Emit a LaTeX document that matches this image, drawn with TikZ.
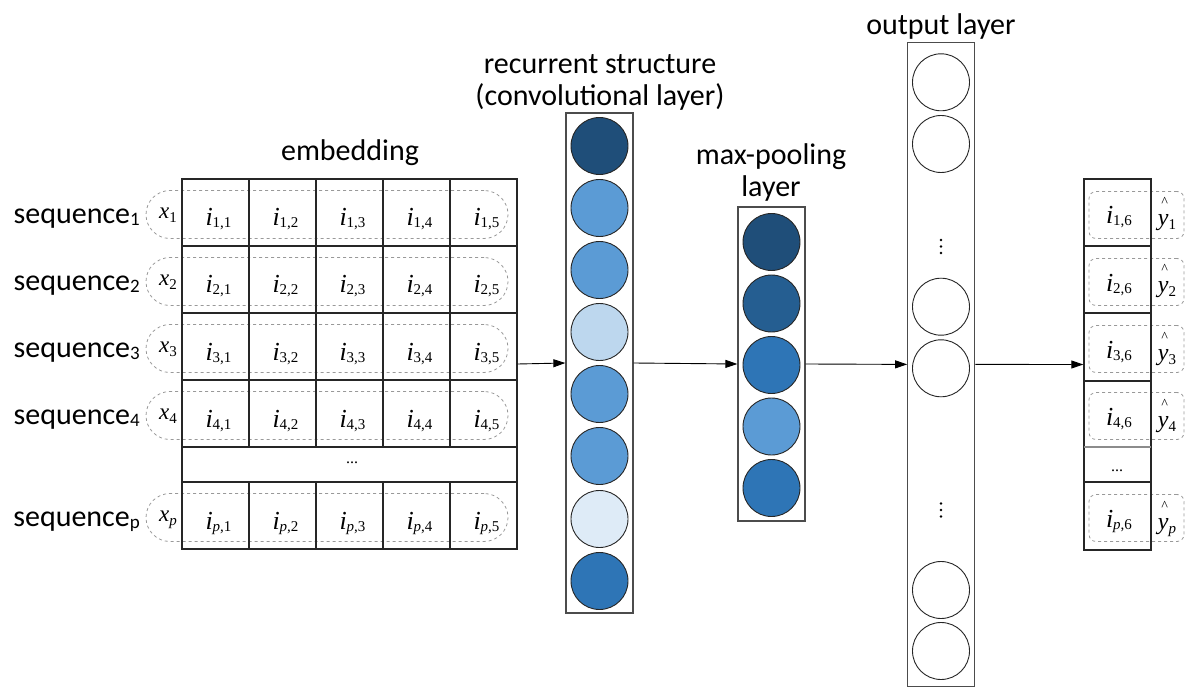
\documentclass[tikz,border=0pt]{standalone}
\usepackage{fontspec}
\setmainfont{Carlito}
\newfontfamily\tnr{Liberation Serif}
\usepackage{tikz}
\usetikzlibrary{positioning}
\usetikzlibrary{arrows.meta}
\usepackage{xcolor}

\definecolor{navy}{HTML}{1F4E79}
\definecolor{deepblue}{HTML}{255E91}
\definecolor{steelblue}{HTML}{2E75B6}
\definecolor{midblue}{HTML}{5B9BD5}
\definecolor{paleblue}{HTML}{BDD7EE}
\definecolor{iceblue}{HTML}{DEEBF7}

\newcommand{\seqlab}[1]{sequence\raisebox{-2pt}{\fontsize{19}{19}\selectfont #1}}
\newcommand{\ient}[2]{{\tnr\fontsize{26}{26}\selectfont\itshape i}\raisebox{-2pt}{\tnr\fontsize{15}{15}\selectfont #1,#2}}
\newcommand{\xent}[1]{{\tnr\fontsize{23}{23}\selectfont\itshape x}\raisebox{-4pt}{\tnr\fontsize{15}{15}\selectfont #1}}
\newcommand{\yent}[1]{{\tnr\fontsize{24}{24}\selectfont\itshape y\llap{\raisebox{19pt}{\fontsize{14}{14}\selectfont\^{}}\hspace{1.5pt}}}\raisebox{-4pt}{\tnr\fontsize{15}{15}\selectfont #1}}

\begin{document}
\begin{tikzpicture}[x=1pt, y=-1pt,
  lab/.style={font=\fontsize{30}{32}\selectfont, inner sep=0pt},
  sym/.style={anchor=base, inner sep=0pt},
  layerbox/.style={draw=black!70, line width=1.3pt, minimum width=67pt, inner sep=0pt},
  unit/.style={circle, draw=black!85, line width=0.9pt, minimum size=57pt, inner sep=0pt},
  pill/.style={draw=black!40, dashed, line width=0.8pt, rounded corners=24pt, minimum width=362pt, minimum height=48pt, inner sep=0pt},
  tag/.style={draw=black!40, dashed, line width=0.8pt, rounded corners=7pt, minimum width=95pt, minimum height=47pt, inner sep=0pt},
  grid line/.style={black!85, line width=1.4pt},
  arr/.style={-{Triangle[length=12pt, width=8pt]}, line width=0.9pt}]

\useasboundingbox (0,0) rectangle (1187,687);

% dashed rows behind the embedding
\node[pill] (r1) at (327,214.5) {};
\node[pill] (r2) at (327,281.5) {};
\node[pill] (r3) at (327,348.5) {};
\node[pill] (r4) at (327,415.5) {};
\node[pill] (rp) at (327,517.5) {};

% embedding table
\node[draw=black!85, line width=1.4pt, minimum width=335pt, minimum height=370pt, inner sep=0pt] (emb) at (349.5,364) {};
\draw[grid line] (182,246)--(517,246);
\draw[grid line] (182,313)--(517,313);
\draw[grid line] (182,380)--(517,380);
\draw[grid line] (182,447)--(517,447);
\draw[grid line] (182,482)--(517,482);
\draw[grid line] (249,179)--(249,447);
\draw[grid line] (316,179)--(316,447);
\draw[grid line] (383,179)--(383,447);
\draw[grid line] (450,179)--(450,447);
\draw[grid line] (249,482)--(249,549);
\draw[grid line] (316,482)--(316,549);
\draw[grid line] (383,482)--(383,549);
\draw[grid line] (450,482)--(450,549);

\node[lab] (embl) at (350,153) {embedding};

\node[lab, anchor=base east] (s1) at (140,223.5) {\seqlab{1}};
\node[lab, anchor=base east] (s2) at (140,290.5) {\seqlab{2}};
\node[lab, anchor=base east] (s3) at (140,357.5) {\seqlab{3}};
\node[lab, anchor=base east] (s4) at (140,424.5) {\seqlab{4}};
\node[lab, anchor=base east] (sp) at (140,526.5) {\seqlab{p}};

\node[sym] (x1) at (168,218.5) {\xent{1}};
\node[sym] (x2) at (168,285.5) {\xent{2}};
\node[sym] (x3) at (168,352.5) {\xent{3}};
\node[sym] (x4) at (168,419.5) {\xent{4}};
\node[sym] (xp) at (168,521.5) {\xent{{\itshape p}}};

\node[sym] (e11) at (218.5,226) {\ient{1}{1}};
\node[sym] (e12) at (285.5,226) {\ient{1}{2}};
\node[sym] (e13) at (352.5,226) {\ient{1}{3}};
\node[sym] (e14) at (419.5,226) {\ient{1}{4}};
\node[sym] (e15) at (486.5,226) {\ient{1}{5}};

\node[sym] (e21) at (218.5,293) {\ient{2}{1}};
\node[sym] (e22) at (285.5,293) {\ient{2}{2}};
\node[sym] (e23) at (352.5,293) {\ient{2}{3}};
\node[sym] (e24) at (419.5,293) {\ient{2}{4}};
\node[sym] (e25) at (486.5,293) {\ient{2}{5}};

\node[sym] (e31) at (218.5,360) {\ient{3}{1}};
\node[sym] (e32) at (285.5,360) {\ient{3}{2}};
\node[sym] (e33) at (352.5,360) {\ient{3}{3}};
\node[sym] (e34) at (419.5,360) {\ient{3}{4}};
\node[sym] (e35) at (486.5,360) {\ient{3}{5}};

\node[sym] (e41) at (218.5,427) {\ient{4}{1}};
\node[sym] (e42) at (285.5,427) {\ient{4}{2}};
\node[sym] (e43) at (352.5,427) {\ient{4}{3}};
\node[sym] (e44) at (419.5,427) {\ient{4}{4}};
\node[sym] (e45) at (486.5,427) {\ient{4}{5}};

\node[sym] (ep1) at (218.5,529) {\ient{{\itshape p}}{1}};
\node[sym] (ep2) at (285.5,529) {\ient{{\itshape p}}{2}};
\node[sym] (ep3) at (352.5,529) {\ient{{\itshape p}}{3}};
\node[sym] (ep4) at (419.5,529) {\ient{{\itshape p}}{4}};
\node[sym] (ep5) at (486.5,529) {\ient{{\itshape p}}{5}};

\node[sym, font=\tnr\fontsize{16}{16}\selectfont] (edots) at (352,463) {...};

% recurrent structure
\node[layerbox, minimum height=500pt] (conv) at (599.5,363) {};
\node[lab, align=center] (convl) at (600,82) {recurrent structure\\(convolutional layer)};
\node[unit, fill=navy] (c1) at (599.5,146) {};
\node[unit, fill=midblue] (c2) at (599.5,208) {};
\node[unit, fill=midblue] (c3) at (599.5,270) {};
\node[unit, fill=paleblue] (c4) at (599.5,332) {};
\node[unit, fill=midblue] (c5) at (599.5,394) {};
\node[unit, fill=midblue] (c6) at (599.5,456) {};
\node[unit, fill=iceblue] (c7) at (599.5,519) {};
\node[unit, fill=steelblue] (c8) at (599.5,581) {};

% max-pooling
\node[layerbox, minimum height=314pt] (pool) at (771.5,364) {};
\node[lab, align=center] (pooll) at (771,173) {max-pooling\\layer};
\node[unit, fill=navy] (m1) at (771.5,242) {};
\node[unit, fill=deepblue] (m2) at (771.5,303.5) {};
\node[unit, fill=steelblue] (m3) at (771.5,365) {};
\node[unit, fill=midblue] (m4) at (771.5,426.5) {};
\node[unit, fill=steelblue] (m5) at (771.5,488) {};

% output layer
\node[layerbox, minimum height=644pt] (out) at (941.3,364.4) {};
\node[lab] (outl) at (941,27) {output layer};
\node[unit, fill=white] (o1) at (941,82.3) {};
\node[unit, fill=white] (o2) at (941,144) {};
\node[unit, fill=white] (o3) at (941,306.7) {};
\node[unit, fill=white] (o4) at (941,368.3) {};
\node[unit, fill=white] (o5) at (941,590) {};
\node[unit, fill=white] (o6) at (941,651) {};
% vertical dots
\fill (941,240) circle (1.3) (941,246.5) circle (1.3) (941,253) circle (1.3);
\fill (941,503.5) circle (1.3) (941,510) circle (1.3) (941,516.5) circle (1.3);

% result column
\node[tag] (t1) at (1136.5,215) {};
\node[tag] (t2) at (1136.5,282) {};
\node[tag] (t3) at (1136.5,349) {};
\node[tag] (t4) at (1136.5,416) {};
\node[tag] (tp) at (1136.5,518) {};

\node[draw=black!85, line width=1.4pt, minimum width=67pt, minimum height=371pt, inner sep=0pt] (res) at (1117.5,364.5) {};
\draw[grid line] (1084,246)--(1151,246);
\draw[grid line] (1084,313)--(1151,313);
\draw[grid line] (1084,381)--(1151,381);
\draw[grid line, black!45] (1084,447)--(1151,447);
\draw[grid line] (1084,482)--(1151,482);

\node[sym] (f1) at (1119,224) {\ient{1}{6}};
\node[sym] (f2) at (1119,291) {\ient{2}{6}};
\node[sym] (f3) at (1119,358) {\ient{3}{6}};
\node[sym] (f4) at (1119,425) {\ient{4}{6}};
\node[sym] (fp) at (1119,527) {\ient{{\itshape p}}{6}};
\node[sym, font=\tnr\fontsize{16}{16}\selectfont] (fdots) at (1117,471) {...};

\node[sym] (y1) at (1167,226) {\yent{1}};
\node[sym] (y2) at (1167,293) {\yent{2}};
\node[sym] (y3) at (1167,360) {\yent{3}};
\node[sym] (y4) at (1167,427) {\yent{4}};
\node[sym] (yp) at (1167,529) {\yent{{\itshape p}}};

% connectors
\draw[arr] (emb.east) -- (conv.west);
\draw[arr] (conv.east) -- (pool.west);
\draw[arr] (pool.east) -- (out.west);
\draw[arr] (out.east) -- (res.west);

\end{tikzpicture}
\end{document}
